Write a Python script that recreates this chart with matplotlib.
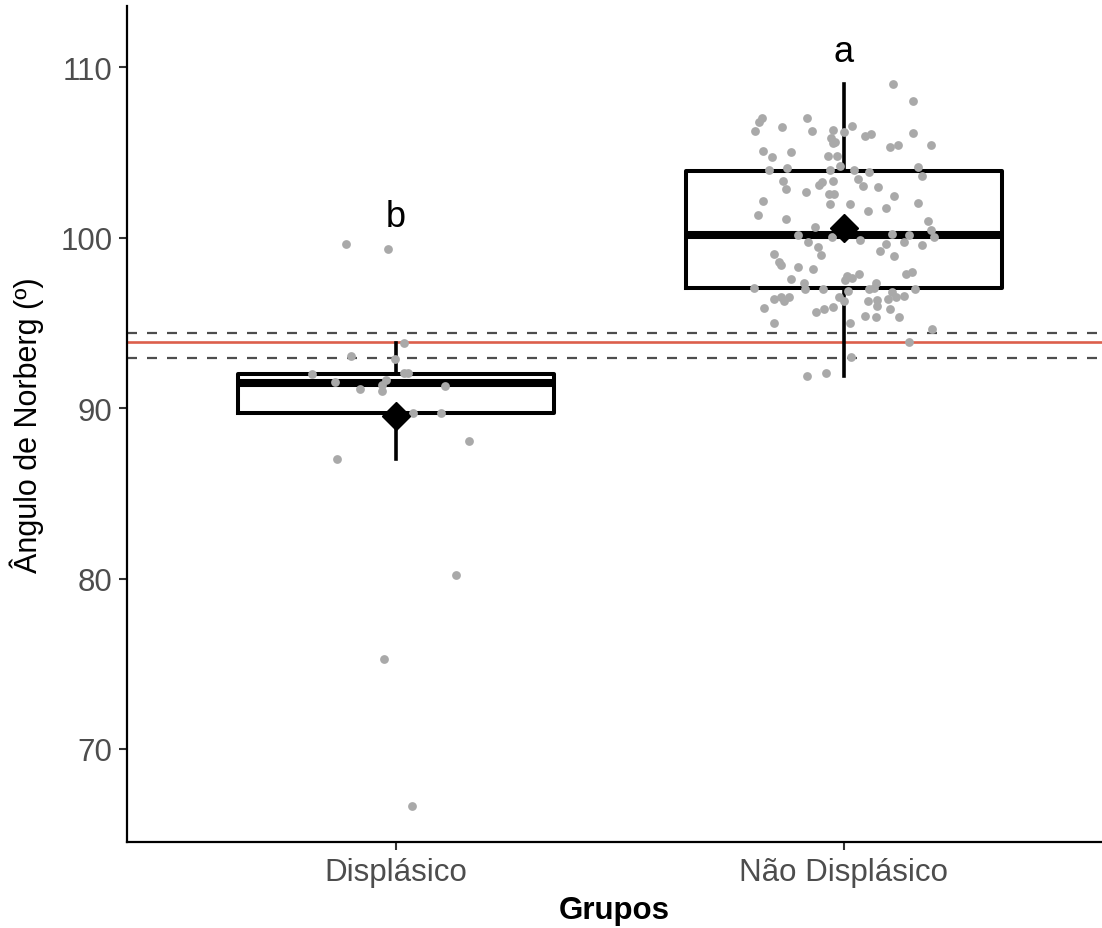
import matplotlib
matplotlib.use("Agg")
import matplotlib.pyplot as plt

plt.rcParams['font.family'] = ['Liberation Sans', 'DejaVu Sans']

# grupos
grupos = ['Displásico', 'Não Displásico']

# pontos lidos (valor, deslocamento horizontal do jitter)
disp_vals = [99.64, 99.33, 93.85, 93.07, 92.90, 92.03, 92.09, 92.09, 91.54, 91.63,
             91.38, 91.15, 91.01, 91.30, 89.72, 89.72, 88.05, 87.03, 80.18, 75.29, 66.67]
disp_jit = [-0.112, -0.017, 0.018, -0.099, -0.002, -0.187, 0.018, 0.027, -0.136, -0.023,
            -0.031, -0.080, -0.031, 0.109, 0.039, 0.101, 0.163, -0.132, 0.134, -0.027, 0.036]

nao_vals = [109.02, 108.02, 107.00, 106.77, 106.26, 107.04, 106.52, 106.24, 106.32, 106.20,
            106.55, 105.83, 105.54, 105.64, 105.95, 106.06, 106.16, 105.30, 105.44, 105.46,
            105.12, 104.71, 105.05, 104.81, 104.81, 104.20, 103.97, 104.11, 103.95, 103.97,
            103.83, 104.15, 103.64, 103.32, 102.85, 103.09, 103.29, 103.32, 102.66, 102.54,
            102.54, 103.44, 103.03, 102.99, 102.44, 102.17, 101.97, 101.97, 101.58, 101.72,
            102.05, 101.32, 101.11, 101.01, 100.62, 100.19, 100.44, 100.07, 100.03, 100.23,
            100.15, 99.74, 99.84, 99.45, 98.98, 99.24, 99.64, 99.76, 99.56, 99.03,
            98.90, 98.59, 98.43, 98.31, 98.19, 97.60, 97.37, 97.02, 97.02, 97.06,
            97.51, 97.77, 97.61, 97.90, 96.90, 96.98, 97.37, 97.06, 97.90, 98.00,
            97.02, 96.39, 96.53, 96.27, 96.55, 95.90, 95.00, 95.65, 95.79, 95.92,
            96.51, 96.31, 96.27, 96.33, 96.00, 96.43, 96.82, 96.53, 96.57, 95.80,
            95.41, 95.37, 95.33, 94.98, 94.63, 93.89, 93.02, 91.87, 92.07]
nao_jit = [0.109, 0.155, -0.182, -0.190, -0.199, -0.083, -0.138, -0.072, -0.025, 0.001,
           0.019, -0.029, -0.025, -0.019, 0.047, 0.060, 0.155, 0.103, 0.120, 0.194,
           -0.181, -0.161, -0.117, -0.036, -0.016, -0.008, -0.167, -0.126, -0.032, 0.023,
           0.056, 0.165, 0.175, -0.135, -0.129, -0.056, -0.048, -0.025, -0.085, -0.033,
           -0.022, 0.032, 0.042, 0.077, 0.111, -0.181, -0.032, 0.013, 0.053, 0.094,
           0.165, -0.191, -0.129, 0.187, -0.065, -0.103, 0.194, 0.200, -0.026, 0.108,
           0.145, -0.080, 0.036, -0.057, -0.051, 0.080, 0.094, 0.135, 0.175, -0.157,
           0.112, -0.145, -0.141, -0.102, -0.068, -0.118, -0.090, -0.087, -0.047, -0.200,
           0.002, 0.007, 0.019, 0.033, 0.010, 0.056, 0.071, 0.068, 0.139, 0.151,
           0.158, -0.156, -0.141, -0.133, -0.123, -0.179, -0.156, -0.063, -0.045, -0.024,
           -0.010, 0.001, 0.053, 0.074, 0.074, 0.098, 0.108, 0.117, 0.133, 0.102,
           0.048, 0.072, 0.123, 0.013, 0.197, 0.145, 0.016, -0.083, -0.040]

# estatísticas do boxplot
whis_lo = [87.0, 91.9]
q1 = [89.7, 97.05]
mediana = [91.45, 100.15]
q3 = [92.0, 103.93]
whis_hi = [93.8, 109.0]
medias = [89.55, 100.55]

# letras de significância
letras = ['b', 'a']
letras_y = [100.7, 110.4]

# referência
ref_media = 93.87
ref_lo = 92.93
ref_hi = 94.43

fig = plt.figure(figsize=(11.02, 9.29), dpi=100)
ax = fig.add_axes([127/1102, 86/929, 975/1102, 836/929])

stats = []
for i in range(2):
    stats.append({'whislo': whis_lo[i], 'q1': q1[i], 'med': mediana[i],
                  'q3': q3[i], 'whishi': whis_hi[i], 'fliers': []})
ax.bxp(stats, positions=[1, 2], widths=0.705, showcaps=False, showfliers=False,
       boxprops=dict(color='black', linewidth=2.9),
       whiskerprops=dict(color='black', linewidth=2.6),
       medianprops=dict(color='black', linewidth=5.8, solid_capstyle='butt'),
       zorder=2)

ax.axhline(ref_media, color='#DC5F4B', linewidth=1.9, zorder=1)
ax.axhline(ref_hi, color='#4D4D4D', linewidth=1.6, linestyle=(0, (4.5, 4.5)), zorder=1)
ax.axhline(ref_lo, color='#4D4D4D', linewidth=1.6, linestyle=(0, (4.5, 4.5)), zorder=1)

ax.scatter([1 + j for j in disp_jit], disp_vals, s=40, color='#A9A9A9',
           linewidths=0, zorder=3)
ax.scatter([2 + j for j in nao_jit], nao_vals, s=40, color='#A9A9A9',
           linewidths=0, zorder=3)

ax.plot([1, 2], medias, linestyle='none', marker='D', markersize=14,
        color='black', zorder=4)

for i in range(2):
    ax.text(i + 1, letras_y[i], letras[i], fontsize=26, ha='center', va='baseline')

ax.set_xlim(0.4, 2.576)
ax.set_ylim(64.54, 113.6)
ax.set_xticks([1, 2])
ax.set_xticklabels(grupos)
ax.set_yticks([70, 80, 90, 100, 110])

for s in ['top', 'right']:
    ax.spines[s].set_visible(False)
for s in ['left', 'bottom']:
    ax.spines[s].set_linewidth(1.6)

ax.tick_params(axis='both', labelsize=22.5, labelcolor='#4D4D4D', color='#333333',
               length=5.5, width=1.5, pad=5)
ax.set_ylabel('Ângulo de Norberg (º)', fontsize=22, labelpad=12)
ax.set_xlabel('Grupos', fontsize=22.5, fontweight='bold', labelpad=6)

fig.savefig('out.png', dpi=100)
